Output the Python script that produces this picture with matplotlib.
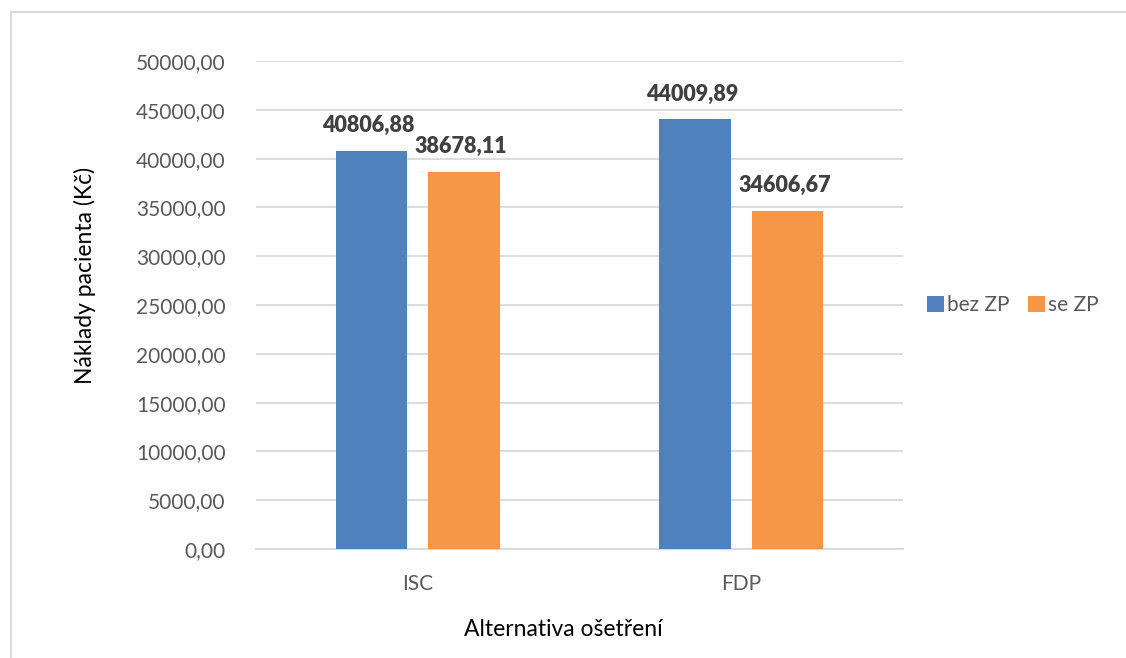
import matplotlib.pyplot as plt
from matplotlib.lines import Line2D
from matplotlib.ticker import FuncFormatter
import numpy as np

# Costs per treatment alternative, with and without insurance
categories = ["ISC", "FDP"]
bez_zp = [40806.88, 44009.89]
se_zp = [38678.11, 34606.67]
series_names = ["bez ZP", "se ZP"]

plt.rcParams['font.family'] = ['Lato', 'DejaVu Sans']

fig = plt.figure(figsize=(11.26, 6.58), dpi=100)
ax = fig.add_axes([256 / 1126, 109 / 658, 647 / 1126, 488 / 658])

x = np.arange(len(categories))
width = 0.222
off = 0.143
b1 = ax.bar(x - off, bez_zp, width, color="#4F81BD", label=series_names[0], zorder=3)
b2 = ax.bar(x + off, se_zp, width, color="#F79646", label=series_names[1], zorder=3)

def fmt(v):
    return "{:.2f}".format(v).replace(".", ",")

for bars, vals in [(b1, bez_zp), (b2, se_zp)]:
    for rect, v in zip(bars, vals):
        ax.annotate(fmt(v), (rect.get_x() + rect.get_width() / 2, v),
                    xytext=(-3, 15), textcoords="offset pixels",
                    ha="center", va="bottom", fontsize=15.5, fontweight="heavy",
                    color="#404040")

ax.set_xlim(-0.5, 1.5)
ax.set_ylim(0, 50000)
ax.set_yticks(np.arange(0, 50001, 5000))
ax.yaxis.set_major_formatter(FuncFormatter(lambda v, p: fmt(v)))
ax.set_xticks(x)
ax.set_xticklabels(categories)
ax.tick_params(axis="both", length=0, labelsize=15, colors="#595959")
ax.tick_params(axis="y", pad=22)
ax.tick_params(axis="x", pad=18)
ax.grid(axis="y", color="#D9D9D9", linewidth=1.3, zorder=0)
for s in ["top", "right", "left"]:
    ax.spines[s].set_visible(False)
ax.spines["bottom"].set_color("#D9D9D9")
ax.spines["bottom"].set_linewidth(1.3)

fig.text(85 / 1126, 1 - 275 / 658, "Náklady pacienta (Kč)", rotation=90,
         ha="center", va="center", fontsize=16.5, color="black")
fig.text(563 / 1126, 1 - 630 / 658, "Alternativa ošetření",
         ha="center", va="center", fontsize=16.5, color="black")

ax.legend(loc="center left", bbox_to_anchor=(1.008, 0.5), frameon=False,
          fontsize=15, labelcolor="#595959", handlelength=0.8, handleheight=0.8,
          handletextpad=0.15, columnspacing=0.9, ncol=2)

# Chart border (top and left edges)
fig.add_artist(Line2D([11 / 1126, 1.0], [1 - 11.5 / 658] * 2, color="#D9D9D9", lw=1.5))
fig.add_artist(Line2D([11 / 1126] * 2, [0, 1 - 11.5 / 658], color="#D9D9D9", lw=1.5))

fig.savefig("out.png", dpi=100)
